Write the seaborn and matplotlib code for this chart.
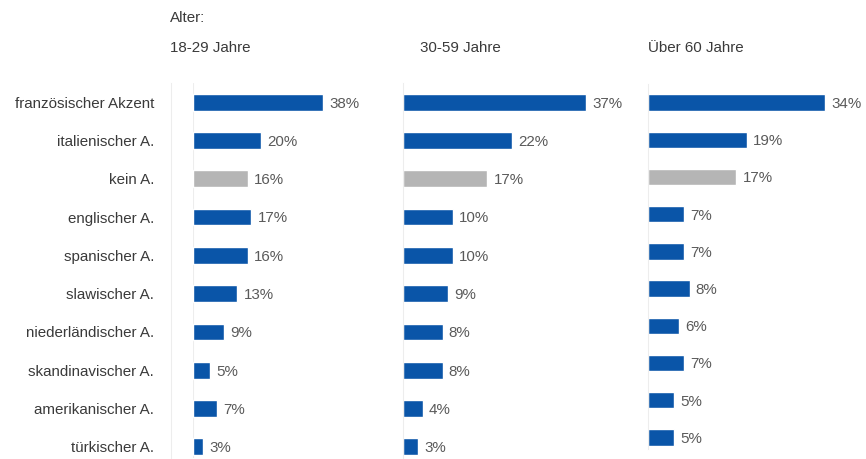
import matplotlib
matplotlib.use("Agg")
import matplotlib.pyplot as plt
import seaborn as sns
import pandas as pd

categories = [
    "französischer Akzent", "italienischer A.", "kein A.", "englischer A.",
    "spanischer A.", "slawischer A.", "niederländischer A.",
    "skandinavischer A.", "amerikanischer A.", "türkischer A.",
]
group_titles = ["18-29 Jahre", "30-59 Jahre", "Über 60 Jahre"]
vals_18_29 = [38, 20, 16, 17, 16, 13, 9, 5, 7, 3]
vals_30_59 = [37, 22, 17, 10, 10, 9, 8, 8, 4, 3]
vals_60 = [34, 19, 17, 7, 7, 8, 6, 7, 5, 5]

BLUE = "#0a55a8"
GREY = "#b5b5b5"
TEXT = "#3a3a3a"
VALUE_TEXT = "#5a5a5a"
RULE = "#ededed"
FS = 10.9

sns.set_theme(style="white")
plt.rcParams["font.family"] = ["Liberation Sans", "DejaVu Sans"]

W, H = 866, 459
fig = plt.figure(figsize=(W / 100, H / 100), dpi=100)

palette = {c: (GREY if c == "kein A." else BLUE) for c in categories}

# (left px, top px, px per row, px per percent)
panels = [
    (193, 83, 38.3, 3.42),
    (403, 83, 38.3, 4.95),
    (648, 84, 37.2, 5.2),
]
series = [vals_18_29, vals_30_59, vals_60]
title_x = [170, 420, 648]

for i, ((left, top, row, ppx), vals) in enumerate(zip(panels, series)):
    ymax = 9.3
    height = (ymax + 0.5) * row
    width = 40 * ppx
    ax = fig.add_axes([left / W, 1 - (top + height) / H, width / W, height / H])
    df = pd.DataFrame({"Akzent": categories, "Anteil": vals})
    sns.barplot(data=df, y="Akzent", x="Anteil", hue="Akzent", palette=palette,
                orient="h", width=0.44, legend=False, ax=ax, saturation=1)
    ax.set_xlim(0, 40)
    ax.set_ylim(ymax, -0.5)
    ax.set_xlabel("")
    ax.set_ylabel("")
    ax.set_xticks([])
    for s in ["top", "right", "bottom"]:
        ax.spines[s].set_visible(False)
    ax.spines["left"].set_color(RULE)
    ax.spines["left"].set_linewidth(0.8)
    ax.patch.set_alpha(0)
    if i == 0:
        # first panel: the axis rule sits a little left of the bars,
        # with a second faint rule along the bar baseline
        ax.spines["left"].set_position(("outward", 16))
        ax.axvline(0, color=RULE, lw=0.8, zorder=0)
        ax.tick_params(axis="y", length=0, pad=12, labelsize=FS, labelcolor=TEXT)
    else:
        ax.set_yticks(range(len(categories)))
        ax.set_yticklabels([])
        ax.tick_params(axis="y", length=0)
    for j, v in enumerate(vals):
        ax.annotate(f"{v}%", xy=(v, j), xytext=(4.5, -1), textcoords="offset points",
                    va="center", ha="left", fontsize=FS, color=VALUE_TEXT,
                    annotation_clip=False)
    fig.text(title_x[i] / W, 1 - 48 / H, group_titles[i], fontsize=FS,
             color=TEXT, va="center", ha="left")

fig.text(170 / W, 1 - 18 / H, "Alter:", fontsize=FS, color=TEXT,
         va="center", ha="left")

fig.savefig("out.png", dpi=100, facecolor="white")
